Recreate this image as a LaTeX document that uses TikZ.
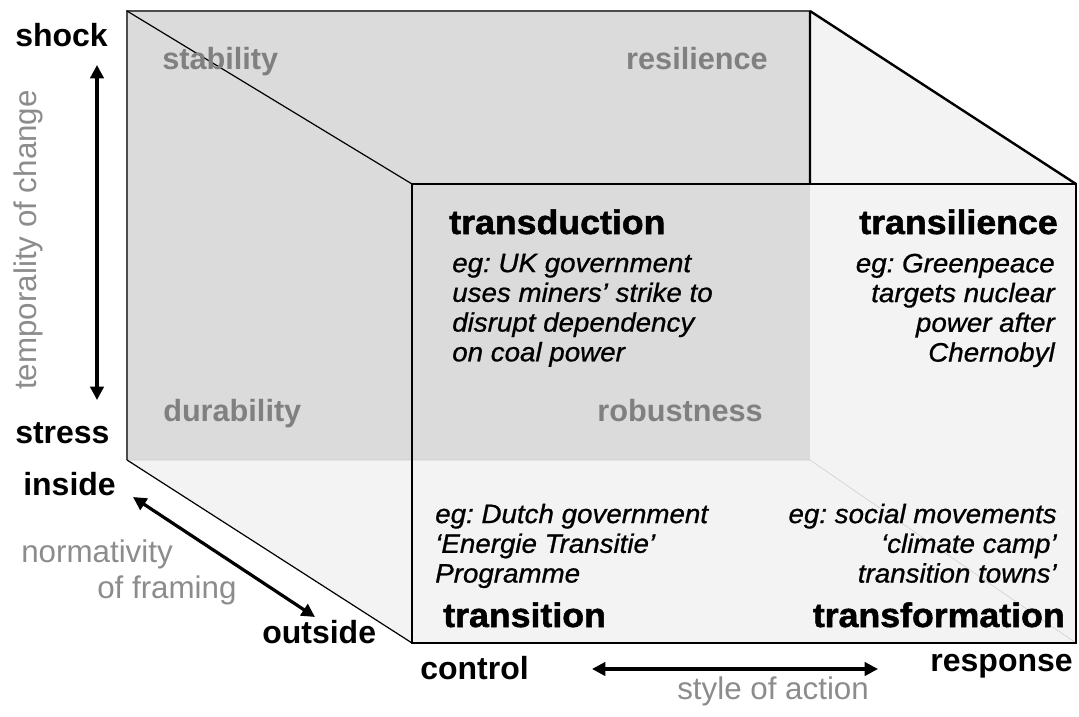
\documentclass[tikz,border=0pt]{standalone}
\usepackage{fontspec}
\setmainfont{Liberation Sans}
\newfontfamily\modefont[FakeStretch=1.05,FakeBold=1.5]{Liberation Sans}
\newfontfamily\casefont[FakeStretch=1.04,FakeBold=0.8]{Liberation Sans}
\usetikzlibrary{arrows.meta}
\frenchspacing

\definecolor{backgray}{RGB}{219,219,219}
\definecolor{sidegray}{RGB}{243,243,243}
\definecolor{qualgray}{RGB}{128,128,128}
\definecolor{axisgray}{RGB}{140,140,140}

\begin{document}
\begin{tikzpicture}[x=0.75pt,y=-0.75pt,>={Triangle[length=10pt,width=10pt]},
pole/.style={font=\fontsize{24}{28}\selectfont\bfseries,inner sep=0pt},
axis/.style={font=\fontsize{23.5}{27}\selectfont,text=axisgray,inner sep=0pt},
quality/.style={font=\fontsize{23}{27}\selectfont\bfseries,text=qualgray,inner sep=0pt},
mode/.style={font=\modefont\fontsize{25.5}{28}\selectfont\bfseries,inner sep=0pt},
case/.style={font=\casefont\fontsize{20}{22.3}\selectfont\itshape,inner sep=0pt},
axisline/.style={<->,line width=2.4pt}]
\useasboundingbox (0,0) rectangle (1079,717);

\coordinate (b-nw) at (127,11);
\coordinate (b-ne) at (810,11);
\coordinate (b-sw) at (127,460);
\coordinate (b-se) at (810,460);
\coordinate (f-nw) at (412,184);
\coordinate (f-ne) at (1076,184);
\coordinate (f-sw) at (412,643);
\coordinate (f-se) at (1076,643);

\fill[sidegray] (b-nw) -- (b-ne) -- (f-ne) -- (f-se) -- (f-sw) -- (b-sw) -- cycle;
\fill[backgray] (b-nw) rectangle (b-se);
\draw[black!20] (b-sw) -- (b-se) -- (f-se);
\draw[black!70,line width=0.9pt] (b-sw) -- (b-nw) -- (b-ne);
\draw[line width=0.9pt] (b-nw) -- (f-nw) (b-sw) -- (f-sw);
\draw[line width=1.8pt] (b-ne) -- (f-ne) (b-ne) -- (b-ne |- f-nw);
\draw[line width=2.2pt] (f-nw) rectangle (f-se);

\node[quality,anchor=base west] (stability) at (162,70) {stability};
\node[quality,anchor=base east] (resilience) at (768,70) {resilience};
\node[quality,anchor=base west] (durability) at (163,421) {durability};
\node[quality,anchor=base east] (robustness) at (763,421) {robustness};

\node[mode,anchor=base west] (transduction) at (449,234) {transduction};
\node[mode,anchor=base east] (transilience) at (1058,234) {transilience};
\node[mode,anchor=base west] (transition) at (443,627) {transition};
\node[mode,anchor=base east] (transformation) at (1065,627) {transformation};

\node[case,anchor=north west,align=left] (uk) at (452,253.5)
{eg: UK government\\uses miners’ strike to\\disrupt dependency\\on coal power};
\node[case,anchor=north east,align=right] (greenpeace) at (1055,253.5)
{eg: Greenpeace\\targets nuclear\\power after\\Chernobyl};
\node[case,anchor=north west,align=left] (dutch) at (435,503.5)
{eg: Dutch government\\‘Energie Transitie’\\Programme};
\node[case,anchor=north east,align=right] (social) at (1057,503.5)
{eg: social movements\\‘climate camp’\\transition towns’};

\node[pole,anchor=base west] (shock) at (15,47) {shock};
\node[pole,anchor=base west] (stress) at (15,443) {stress};
\node[pole,anchor=base west] (inside) at (23,495) {inside};
\node[pole,anchor=base west] (outside) at (262,643) {outside};
\node[pole,anchor=base west] (control) at (420,679) {control};
\node[pole,anchor=base east] (response) at (1073,671) {response};

\node[axis,rotate=90] (temporality) at (28,240) {temporality of change};
\node[axis,anchor=base west] (normativity) at (21,562) {normativity};
\node[axis,anchor=base west] (framing) at (97,598) {of framing};
\node[axis,anchor=base west] (style) at (677,699) {style of action};

\coordinate (shock-tip) at (97,65);
\coordinate (stress-tip) at (97,400);
\coordinate (inside-tip) at (133,497);
\coordinate (outside-tip) at (315,617);
\coordinate (control-tip) at (592,669);
\coordinate (response-tip) at (878,669);
\draw[axisline] (stress-tip) -- (shock-tip);
\draw[axisline] (inside-tip) -- (outside-tip);
\draw[axisline] (control-tip) -- (response-tip);
\end{tikzpicture}
\end{document}
